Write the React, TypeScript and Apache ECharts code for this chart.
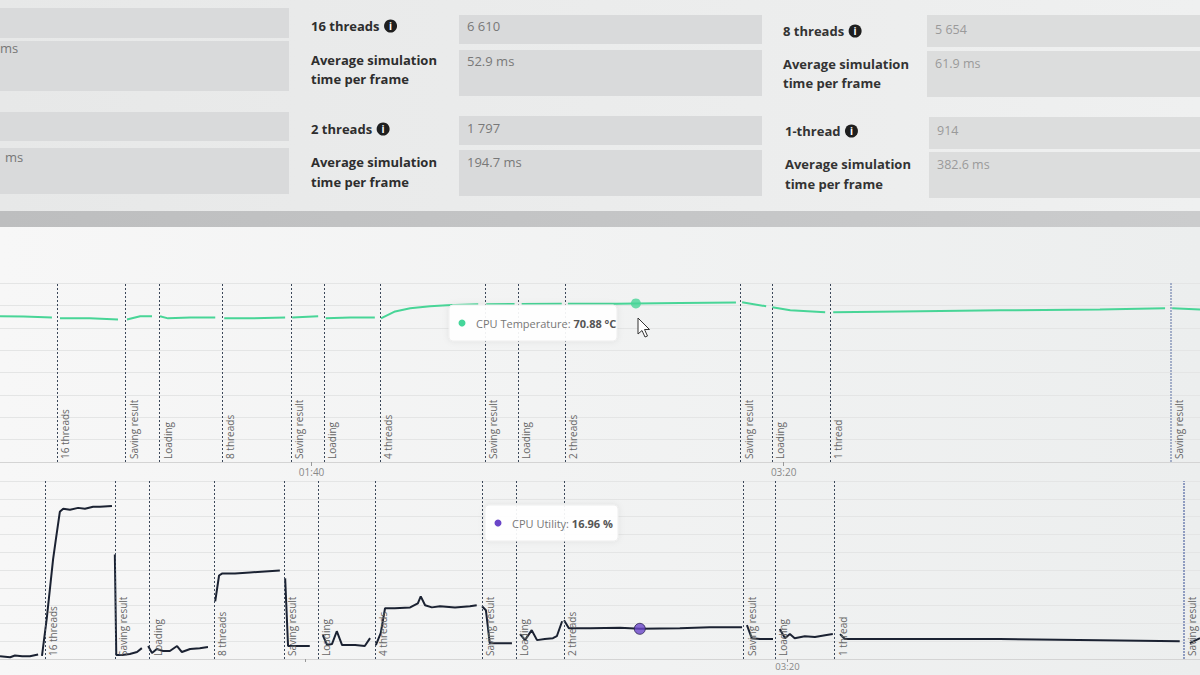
import React, { useEffect, useRef } from "react";
import * as echarts from "echarts";

// ---------- data ----------
const MARKER_NAMES = [
  "16 threads", "Saving result", "Loading", "8 threads", "Saving result", "Loading",
  "4 threads", "Saving result", "Loading", "2 threads", "Saving result", "Loading",
  "1 thread", "Saving result",
];
const MARKER_TIMES = [46.1, 60.6, 67.8, 81.1, 95.7, 102.7, 114.6, 136.7, 143.8, 153.7, 190.9, 197.5, 209.8, 282.1];

// [seconds, °C]; "-" breaks the line at a marker
const TEMP_DATA: any[] = [
  [34.0, 65.1], [39.0, 65.0], [45.0, 64.6], [46.1, "-"],
  [46.7, 64.2], [53.0, 64.2], [59.0, 63.7], [60.3, "-"],
  [60.9, 63.7], [63.7, 65.1], [66.2, 65.1], [67.3, "-"],
  [67.9, 65.1], [69.6, 64.2], [74.3, 64.6], [79.6, 64.6], [80.8, "-"],
  [81.5, 64.2], [87.0, 64.2], [94.4, 64.6], [95.2, "-"],
  [95.9, 64.6], [101.4, 65.1], [102.2, "-"],
  [103.0, 64.2], [108.2, 64.6], [113.4, 64.6], [114.3, "-"],
  [114.7, 64.2], [117.7, 67.3], [120.9, 68.7], [125.1, 69.6], [128.7, 70.1], [135.3, 70.5], [136.1, "-"],
  [137.0, 70.5], [143.0, 70.6], [143.5, "-"],
  [144.5, 70.6], [153.0, 70.7], [153.3, "-"],
  [154.3, 70.7], [164.7, 70.7], [168.7, 70.88], [178.1, 71.1], [189.9, 71.3], [190.8, "-"],
  [191.2, 71.4], [196.3, 69.6], [196.9, "-"],
  [197.6, 69.2], [201.4, 67.8], [208.8, 66.9], [209.8, "-"],
  [210.5, 66.9], [224.7, 67.3], [245.9, 67.8], [267.0, 68.2], [280.8, 68.7], [281.9, "-"],
  [282.3, 68.7], [288.2, 68.2],
];

// [seconds, %]
const CPU_DATA: any[] = [
  [36.8, 1.5], [38.9, 1.0], [39.9, 2.0], [41.4, 1.5], [43.0, 1.5], [44.7, 2.5], [45.2, "-"],
  [45.5, 1.7], [46.5, 23], [47.8, 56], [48.4, 67.6], [49.2, 82.7], [49.9, 84.4], [51.3, 83.8],
  [53.0, 84.9], [54.4, 84.4], [56.1, 85.5], [57.5, 85.5], [60.0, 86], [60.3, "-"],
  [60.6, 58.7], [60.9, 2.2], [62.1, 2.2], [63.7, 2.8], [65.2, 3.9], [66.2, 6.1], [67.0, "-"],
  [67.5, 7.3], [68.3, 3.4], [69.3, 5.6], [70.6, 4.5], [72.0, 4.5], [73.5, 7.3], [74.5, 3.9],
  [76.2, 5.6], [78.2, 6.1], [79.9, 6.7], [80.8, "-"],
  [81.4, 32.4], [82.2, 46.9], [82.8, 48], [85.5, 48], [88.6, 48.6], [91.7, 49.2], [94.8, 49.7], [95.4, "-"],
  [95.9, 45.3], [96.5, 7.3], [97.9, 7.3], [101.0, 7.3], [102.5, "-"],
  [103.7, 13.4], [104.6, 7.8], [105.6, 8.4], [106.6, 15.6], [107.7, 7.8], [110.4, 7.8], [112.4, 7.3], [113.5, 11.7], [114.2, "-"],
  [114.7, 7.8], [115.7, 14.5], [116.6, 28.5], [118.6, 28.5], [121.8, 29], [123.4, 31.3], [124.0, 35.2],
  [124.9, 30.2], [126.3, 29], [128.0, 29.6], [131.1, 29], [134.2, 29.6], [135.6, 30.2], [136.2, "-"],
  [136.7, 29.6], [137.5, 27.4], [138.3, 8.9], [140.4, 8.9], [142.9, 8.9], [143.8, "-"],
  [144.6, 14], [145.6, 10.6], [147.0, 16.2], [148.1, 10.6], [149.7, 11.2], [151.4, 11.7], [152.2, 12.8], [153.3, 21.2], [153.5, "-"],
  [153.7, 21.8], [154.7, 17.3], [159.1, 17.3], [165.3, 17.6], [169.4, 16.96], [177.7, 17.3], [183.9, 17.9], [190.6, 17.9], [191.1, "-"],
  [191.6, 19], [192.6, 11.7], [194.3, 11.2], [197.0, 11.2], [197.7, "-"],
  [198.4, 16.8], [199.5, 11.7], [200.5, 14], [201.5, 11.7], [203.6, 12.8], [205.7, 12.3], [207.8, 13.4], [209.4, 14], [209.9, "-"],
  [210.9, 14], [211.9, 11.2], [223.3, 11.2], [244.0, 11.2], [264.7, 10.6], [281.3, 10], [282.3, "-"],
  [283.4, 8.9], [285.5, 11.7],
];

const TEMP_HOVER = [168.7, 70.88];
const CPU_HOVER = [169.4, 16.96];

const AXIS_LABEL_TIMES = [100, 200];

const STATS_LEFT = [
  { label: "16 threads", value: "6 610", avg: "52.9 ms" },
  { label: "2 threads", value: "1 797", avg: "194.7 ms" },
];
const STATS_RIGHT = [
  { label: "8 threads", value: "5 654", avg: "61.9 ms" },
  { label: "1-thread", value: "914", avg: "382.6 ms" },
];

const FONT = "'Open Sans', 'Noto Sans', sans-serif";

function fmtTime(v: number) {
  const m = Math.floor(v / 60);
  const s = Math.round(v % 60);
  return String(m).padStart(2, "0") + ":" + String(s).padStart(2, "0");
}

let measureCtx: CanvasRenderingContext2D | null = null;
function textWidth(text: string, font: string) {
  if (!measureCtx) measureCtx = document.createElement("canvas").getContext("2d");
  if (!measureCtx) return text.length * 7;
  measureCtx.font = font;
  return measureCtx.measureText(text).width;
}

function markerLine(last: string) {
  return {
    silent: true,
    symbol: ["none", "none"],
    animation: false,
    lineStyle: { type: [2, 2], color: "#3b4759", width: 1 },
    label: {
      position: "insideStartBottom",
      formatter: "{b}",
      color: "#666",
      fontSize: 10,
      fontFamily: FONT,
      distance: 3,
    },
    data: MARKER_TIMES.map((t, i) => ({
      name: MARKER_NAMES[i],
      xAxis: t,
      lineStyle: i === MARKER_TIMES.length - 1 ? { color: last, width: 2, type: [2, 1] } : undefined,
    })),
  };
}

function infoIcon(cx: number, cy: number) {
  return [
    { type: "circle", shape: { cx, cy, r: 6.5 }, style: { fill: "#1f1f1f" } },
    {
      type: "text",
      x: cx,
      y: cy,
      style: { text: "i", fill: "#fff", font: `bold 10px ${FONT}`, align: "center", verticalAlign: "middle" },
    },
  ];
}

const LABEL_FONT = `bold 13px ${FONT}`;

function label(text: string, x: number, y: number, color = "#2e2e2e", font = LABEL_FONT) {
  return {
    type: "text",
    x,
    y,
    style: { text, fill: color, font, verticalAlign: "middle" },
  };
}

function box(x: number, y: number, w: number, h: number, fill = "#d9dadb") {
  return { type: "rect", shape: { x, y, width: w, height: h }, style: { fill } };
}

function buildGraphics() {
  const g: any[] = [];
  const valFont = `normal 13px ${FONT}`;
  const valFontR = `normal 12.5px ${FONT}`;
  // top panel background
  g.push({
    type: "rect",
    z: -10,
    shape: { x: 0, y: 0, width: 1200, height: 211 },
    style: {
      fill: new echarts.graphic.LinearGradient(0, 0, 1, 0, [
        { offset: 0, color: "#e7e8e8" },
        { offset: 1, color: "#eff0f0" },
      ]),
    },
  });
  g.push({
    type: "rect",
    z: -10,
    shape: { x: 0, y: 211, width: 1200, height: 16 },
    style: {
      fill: new echarts.graphic.LinearGradient(0, 0, 1, 0, [
        { offset: 0, color: "#bdbebf" },
        { offset: 1, color: "#cbcccd" },
      ]),
    },
  });
  // left column (cut) boxes
  g.push(box(0, 8, 289, 30), box(0, 41, 289, 50), box(0, 112, 289, 29), box(0, 148, 289, 46));
  g.push(label("ms", 0, 48, "#777", valFont), label("ms", 5, 157, "#777", valFont));
  // middle column
  const midY = [[26, 60, 79, 15, 50, 26, 61], [129, 162, 182, 116, 150, 128, 162]];
  STATS_LEFT.forEach((s, i) => {
    const [ly, a1, a2, vy, ay, vty, aty] = midY[i];
    g.push(box(459, vy, 303, 29), box(459, ay, 303, 46));
    g.push(label(s.label, 311, ly));
    g.push(...infoIcon(311 + textWidth(s.label, LABEL_FONT) + 11, ly));
    g.push(label("Average simulation", 311, a1), label("time per frame", 311, a2));
    g.push(label(s.value, 467, vty, "#787878", valFont), label(s.avg, 467, aty, "#787878", valFont));
  });
  const rightY = [[31, 64, 83, 15, 51, 29, 63, 783], [131, 164, 184, 117, 152, 130, 164, 785]];
  STATS_RIGHT.forEach((s, i) => {
    const [ly, a1, a2, vy, ay, vty, aty, lx] = rightY[i];
    g.push(box(lx + 144, vy, 1200 - lx - 144, 32, "#dcdddd"), box(lx + 144, ay, 1200 - lx - 144, 46, "#dcdddd"));
    g.push(label(s.label, lx, ly, "#333"));
    g.push(...infoIcon(lx + textWidth(s.label, LABEL_FONT) + 11, ly));
    g.push(label("Average simulation", lx, a1, "#333"), label("time per frame", lx, a2, "#333"));
    g.push(label(s.value, lx + 152, vty, "#9a9a9a", valFontR), label(s.avg, lx + 152, aty, "#9a9a9a", valFontR));
  });

  // tooltips
  const tip = (x: number, y: number, w: number, dot: string, a: string, b: string) => [
    {
      type: "rect",
      z: 50,
      shape: { x, y, width: w, height: 36, r: 4 },
      style: { fill: "rgba(255,255,255,0.92)", stroke: "#eeeeee", lineWidth: 1, shadowBlur: 6, shadowColor: "rgba(0,0,0,0.08)" },
    },
    { type: "circle", z: 51, shape: { cx: x + 13, cy: y + 18, r: 3.5 }, style: { fill: dot } },
    {
      type: "text",
      z: 51,
      x: x + 27,
      y: y + 18,
      style: {
        text: `{a|${a}}{b|${b}}`,
        verticalAlign: "middle",
        rich: {
          a: { fill: "#777", fontSize: 11, fontFamily: FONT },
          b: { fill: "#555", fontSize: 11, fontWeight: "bold", fontFamily: FONT },
        },
      },
    },
  ];
  g.push(...tip(449, 305, 168, "#45d69a", "CPU Temperature: ", "70.88 °C"));
  g.push(...tip(485, 505, 133, "#6a45c8", "CPU Utility: ", "16.96 %"));

  // mouse cursor
  g.push({
    type: "polygon",
    z: 60,
    shape: {
      points: [
        [638, 318], [638, 334], [642, 330.5], [645, 337], [647.5, 336], [644.5, 329.5], [649.5, 329.5],
      ],
    },
    style: { fill: "#fff", stroke: "#333", lineWidth: 1 },
  });
  return g;
}

export default function App() {
  const ref = useRef<HTMLDivElement>(null);
  useEffect(() => {
    if (!ref.current) return;
    const chart = echarts.init(ref.current, undefined, { renderer: "svg" });
    const xAxisBase = {
      type: "value",
      splitLine: { show: false },
      axisLine: { show: true, lineStyle: { color: "#d4d4d4" } },
      axisTick: { show: true, customValues: AXIS_LABEL_TIMES, length: 4, lineStyle: { color: "#999" } },
      axisLabel: {
        customValues: AXIS_LABEL_TIMES,
        formatter: (v: number) => fmtTime(v),
        color: "#888",
        fontSize: 10,
        fontFamily: FONT,
        margin: 5,
      },
    };
    const yAxisBase = {
      type: "value",
      axisLabel: { show: false },
      axisLine: { show: false },
      axisTick: { show: false },
      splitLine: { show: true, lineStyle: { color: "#e4e5e5", width: 1 } },
    };
    chart.setOption({
      animation: false,
      backgroundColor: new echarts.graphic.LinearGradient(0, 0, 1, 0, [
        { offset: 0, color: "#f7f7f7" },
        { offset: 1, color: "#eceeee" },
      ]),
      grid: [
        { left: 0, right: 0, top: 283, height: 179 },
        { left: 0, right: 0, top: 481, height: 178 },
      ],
      xAxis: [
        { ...xAxisBase, gridIndex: 0, min: 34, max: 288.2 },
        {
          ...xAxisBase,
          gridIndex: 1,
          min: 36.8,
          max: 285.5,
          axisTick: { ...xAxisBase.axisTick, length: 3 },
          axisLabel: { ...xAxisBase.axisLabel, customValues: [200], margin: 2, fontSize: 9.5 },
        },
      ],
      yAxis: [
        { ...yAxisBase, gridIndex: 0, min: 0, max: 80, interval: 10 },
        { ...yAxisBase, gridIndex: 1, min: 0, max: 100, interval: 10 },
      ],
      series: [
        {
          name: "CPU Temperature",
          type: "line",
          xAxisIndex: 0,
          yAxisIndex: 0,
          data: TEMP_DATA,
          showSymbol: false,
          connectNulls: false,
          lineStyle: { color: "#48d597", width: 2 },
          itemStyle: { color: "#48d597" },
          markLine: markerLine("#a3aec8"),
        },
        {
          name: "CPU Utility",
          type: "line",
          xAxisIndex: 1,
          yAxisIndex: 1,
          data: CPU_DATA,
          showSymbol: false,
          connectNulls: false,
          lineStyle: { color: "#1b2232", width: 2 },
          itemStyle: { color: "#1b2232" },
          markLine: markerLine("#8f9cc0"),
        },
        {
          type: "scatter",
          xAxisIndex: 0,
          yAxisIndex: 0,
          data: [TEMP_HOVER],
          symbolSize: 10,
          itemStyle: { color: "#48d597" },
          z: 5,
        },
        {
          type: "scatter",
          xAxisIndex: 1,
          yAxisIndex: 1,
          data: [CPU_HOVER],
          symbolSize: 11,
          itemStyle: { color: "#6a45c8", borderColor: "#2a2350", borderWidth: 1 },
          z: 5,
        },
      ],
      graphic: buildGraphics(),
    });
    return () => chart.dispose();
  }, []);
  return (
    <div
      ref={ref}
      style={{ position: "fixed", left: 0, top: 0, width: 1200, height: 675 }}
    />
  );
}
